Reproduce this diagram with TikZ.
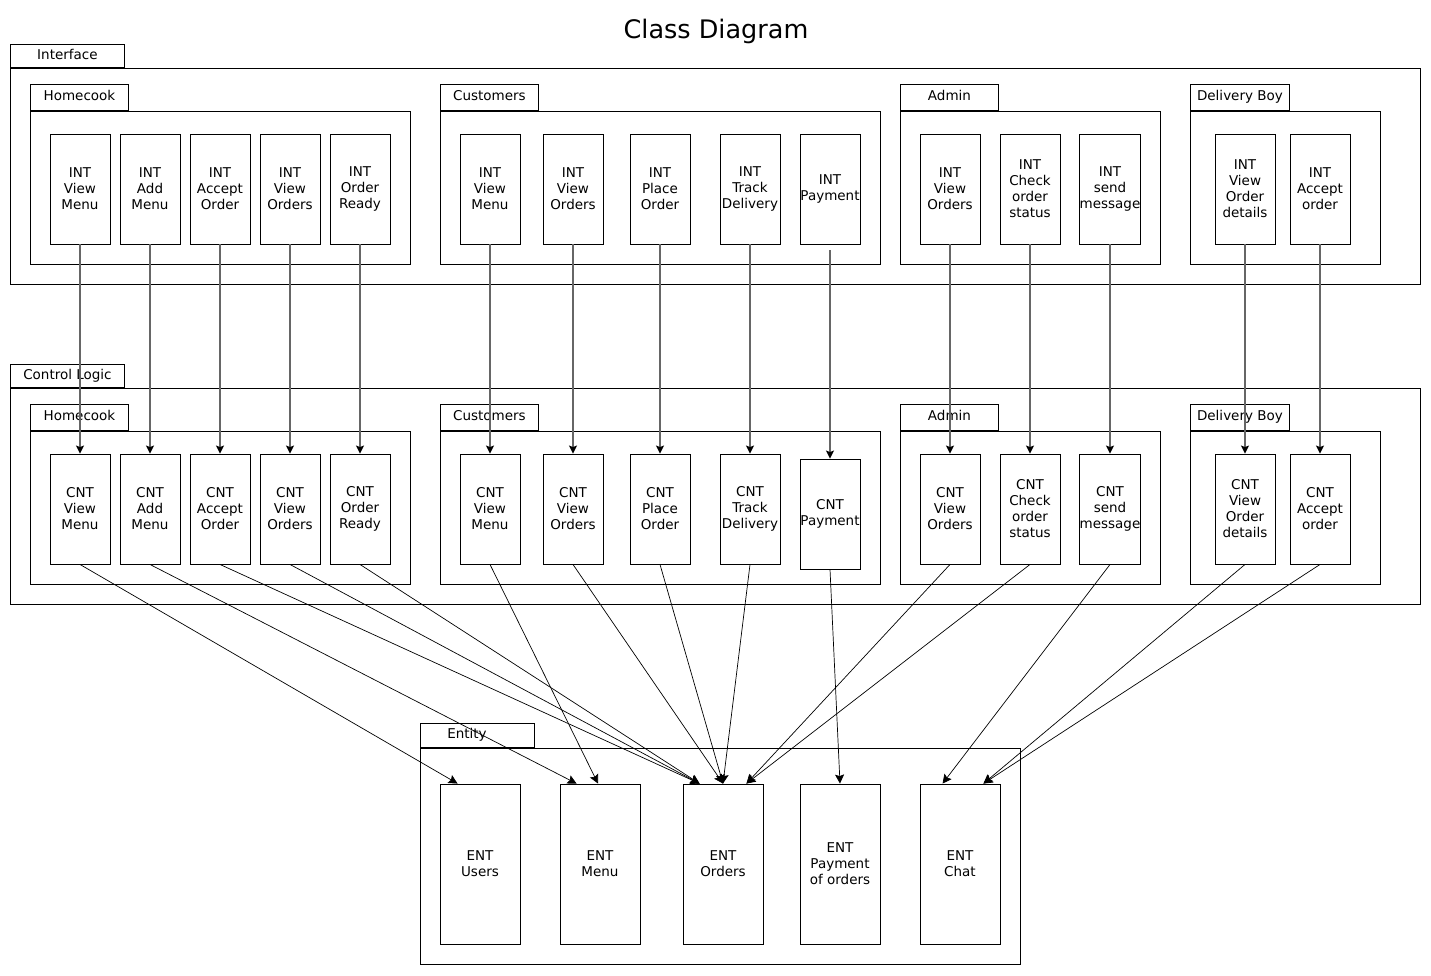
\documentclass[tikz,border=0pt]{standalone}
\usepackage{fontspec}
\setmainfont{DejaVu Sans}
\usepackage{tikz}
\usetikzlibrary{arrows.meta, positioning}

\tikzset{
  cls/.style={draw, line width=0.9pt, minimum width=60, minimum height=110, inner sep=0pt, align=center, font=\fontsize{13.5}{16}\selectfont},
  ent/.style={cls, minimum width=80, minimum height=160},
  pkgtab/.style={draw, line width=0.9pt, anchor=south west, inner sep=0pt, text height=10pt, text depth=4pt, font=\fontsize{13.5}{16}\selectfont},
  pkg/.style={draw, line width=0.9pt},
  flow/.style={draw=black!60, line width=1.2pt, -{Stealth[black, length=8pt, width=8pt, inset=1.5pt]}},
  dep/.style={draw=black, line width=0.7pt, -{Stealth[black, length=9pt, width=9pt, inset=1.5pt]}}
}

\begin{document}
\begin{tikzpicture}[x=1pt, y=-1pt]
  \useasboundingbox (0,0) rectangle (1431,975);
  \node (title) at (716,31) {\fontsize{25.5}{30}\selectfont Class Diagram};

  % interface layer
  \node[pkgtab, minimum width=114, minimum height=23] (iface) at (10,68) {Interface};
  \draw[pkg] (10,68) rectangle (1420,284);
  \node[pkgtab, minimum width=98, minimum height=26] (ihome) at (30,111) {Homecook};
  \draw[pkg] (30,111) rectangle (410,264);
  \node[pkgtab, minimum width=98, minimum height=26] (icust) at (440,111) {Customers};
  \draw[pkg] (440,111) rectangle (880,264);
  \node[pkgtab, minimum width=98, minimum height=26] (iadmin) at (900,111) {Admin};
  \draw[pkg] (900,111) rectangle (1160,264);
  \node[pkgtab, minimum width=99, minimum height=26] (idel) at (1190,111) {Delivery Boy};
  \draw[pkg] (1190,111) rectangle (1380,264);

  \node[cls] (ih1) at (80,189) {INT\\View\\Menu};
  \node[cls] (ih2) at (150,189) {INT\\Add\\Menu};
  \node[cls] (ih3) at (220,189) {INT\\Accept\\Order};
  \node[cls] (ih4) at (290,189) {INT\\View\\Orders};
  \node[cls] (ih5) at (360,189) {INT\\Order\\Ready};
  \node[cls] (ic1) at (490,189) {INT\\View\\Menu};
  \node[cls] (ic2) at (573,189) {INT\\View\\Orders};
  \node[cls] (ic3) at (660,189) {INT\\Place\\Order};
  \node[cls] (ic4) at (750,189) {INT\\Track\\Delivery};
  \node[cls] (ic5) at (830,189) {INT\\Payment};
  \node[cls] (ia1) at (950,189) {INT\\View\\Orders};
  \node[cls] (ia2) at (1030,189) {INT\\Check\\order\\status};
  \node[cls] (ia3) at (1110,189) {INT\\send\\message};
  \node[cls] (id1) at (1245,189) {INT\\View\\Order\\details};
  \node[cls] (id2) at (1320,189) {INT\\Accept\\order};

  % control layer
  \node[pkgtab, minimum width=114, minimum height=23] (ctrl) at (10,388) {Control Logic};
  \draw[pkg] (10,388) rectangle (1420,604);
  \node[pkgtab, minimum width=98, minimum height=26] (chome) at (30,431) {Homecook};
  \draw[pkg] (30,431) rectangle (410,584);
  \node[pkgtab, minimum width=98, minimum height=26] (ccust) at (440,431) {Customers};
  \draw[pkg] (440,431) rectangle (880,584);
  \node[pkgtab, minimum width=98, minimum height=26] (cadmin) at (900,431) {Admin};
  \draw[pkg] (900,431) rectangle (1160,584);
  \node[pkgtab, minimum width=99, minimum height=26] (cdel) at (1190,431) {Delivery Boy};
  \draw[pkg] (1190,431) rectangle (1380,584);

  \node[cls] (ch1) at (80,509) {CNT\\View\\Menu};
  \node[cls] (ch2) at (150,509) {CNT\\Add\\Menu};
  \node[cls] (ch3) at (220,509) {CNT\\Accept\\Order};
  \node[cls] (ch4) at (290,509) {CNT\\View\\Orders};
  \node[cls] (ch5) at (360,509) {CNT\\Order\\Ready};
  \node[cls] (cc1) at (490,509) {CNT\\View\\Menu};
  \node[cls] (cc2) at (573,509) {CNT\\View\\Orders};
  \node[cls] (cc3) at (660,509) {CNT\\Place\\Order};
  \node[cls] (cc4) at (750,509) {CNT\\Track\\Delivery};
  \node[cls] (cc5) at (830,514) {CNT\\Payment};
  \node[cls] (ca1) at (950,509) {CNT\\View\\Orders};
  \node[cls] (ca2) at (1030,509) {CNT\\Check\\order\\status};
  \node[cls] (ca3) at (1110,509) {CNT\\send\\message};
  \node[cls] (cd1) at (1245,509) {CNT\\View\\Order\\details};
  \node[cls] (cd2) at (1320,509) {CNT\\Accept\\order};

  % entity layer
  \node[pkgtab, minimum width=114, minimum height=24] (entity) at (420,748) {};
  \node[font=\fontsize{13.5}{16}\selectfont] (entitylbl) at (467,735) {Entity};
  \draw[pkg] (420,748) rectangle (1020,964);
  \node[ent] (eusers) at (480,864) {ENT\\Users};
  \node[ent] (emenu) at (600,864) {ENT\\Menu};
  \node[ent] (eorders) at (723,864) {ENT\\Orders};
  \node[ent] (epay) at (840,864) {ENT\\Payment\\of orders};
  \node[ent] (echat) at (960,864) {ENT\\Chat};

  \coordinate (usersin) at ([xshift=18pt]eusers.north west);
  \coordinate (menuin) at ([xshift=17pt]emenu.north west);
  \coordinate (menuin2) at ([xshift=-2pt]emenu.north);
  \coordinate (ordersin) at ([xshift=17pt]eorders.north west);
  \coordinate (ordersin2) at (eorders.north);
  \coordinate (ordersin3) at ([xshift=-17pt]eorders.north east);
  \coordinate (payin) at (epay.north);
  \coordinate (chatin) at ([xshift=23pt]echat.north west);
  \coordinate (chatin2) at ([xshift=-17pt]echat.north east);

  % interface -> control
  \foreach \a/\b in {ih1/ch1, ih2/ch2, ih3/ch3, ih4/ch4, ih5/ch5, ic1/cc1, ic2/cc2, ic3/cc3, ic4/cc4, ia1/ca1, ia2/ca2, ia3/ca3, id1/cd1, id2/cd2}
    \draw[flow] (\a) -- (\b);
  \draw[flow, shorten <=6pt] (ic5) -- (cc5);

  % control -> entity
  \foreach \a/\b in {ch1/usersin, ch2/menuin, ch3/ordersin, ch4/ordersin, ch5/ordersin, cc1/menuin2, cc2/ordersin2, cc3/ordersin2, cc4/ordersin2, cc5/payin, ca1/ordersin3, ca2/ordersin3, ca3/chatin, cd1/chatin2, cd2/chatin2}
    \draw[dep] (\a.south) -- (\b);
\end{tikzpicture}
\end{document}
